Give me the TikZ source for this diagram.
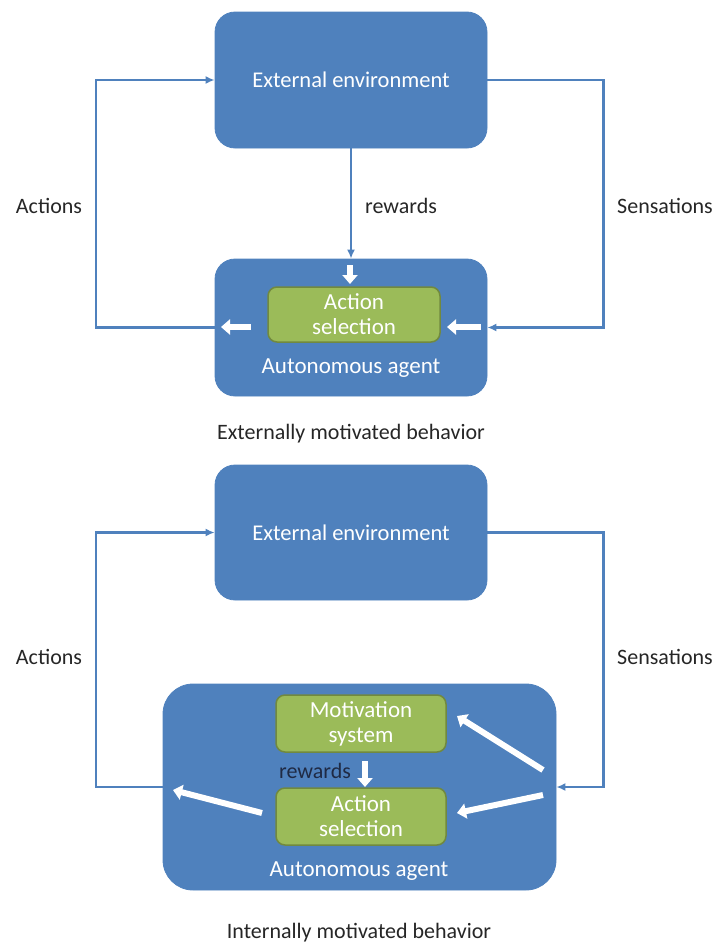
\documentclass[tikz,border=0pt]{standalone}
\usepackage{fontspec}
\setmainfont{Carlito}
\usetikzlibrary{arrows.meta}
\definecolor{bblue}{HTML}{4F81BD}
\definecolor{ggreen}{HTML}{9BBB59}
\definecolor{ggreenD}{HTML}{71893F}
\definecolor{navy}{HTML}{1F2A44}
\definecolor{txt}{HTML}{262626}
\begin{document}
\begin{tikzpicture}[x=1pt,y=-1pt,
  bluebox/.style={draw=bblue,line width=0.8pt,fill=bblue,rounded corners=20pt,text=white,font=\fontsize{22.5}{26}\selectfont,inner sep=0pt},
  greenbox/.style={draw=ggreenD,line width=1.5pt,fill=ggreen,rounded corners=9pt,text=white,align=center,font=\fontsize{23}{27}\selectfont,inner sep=0pt},
  lbl/.style={text=txt,font=\fontsize{22}{26}\selectfont,inner sep=0pt},
  intext/.style={text=white,font=\fontsize{23}{26}\selectfont,inner sep=0pt},
  conn/.style={draw=bblue,line width=2.2pt,-{Latex[length=9pt,width=8pt]}},
  wharrow/.style={draw=white,line width=6pt,-{Triangle[length=9pt,width=15pt]}}
]
\useasboundingbox (0,0) rectangle (718,945);
% ---------- top diagram ----------
\node[bluebox,minimum width=272pt,minimum height=136pt] (env1) at (351,80) {External environment};
\node[bluebox,minimum width=272pt,minimum height=137pt] (agent1) at (351,327.5) {};
\node[greenbox,minimum width=172pt,minimum height=55pt] (as1) at (354,314.5) {Action\\[-2pt]selection};
\node[intext] (aa1) at (351,368) {Autonomous agent};
\node[lbl] (act1) at (49,206) {Actions};
\node[lbl,anchor=west] (sen1) at (617,206) {Sensations};
\node[lbl] (rew1) at (401,206) {rewards};
\node[lbl] (cap1) at (351,434) {Externally motivated behavior};

\draw[conn] (agent1.west) -- ++(-119,0) |- (env1.west);
\draw[conn] (env1.east) -- ++(116,0) |- (agent1.east);
\draw[conn] (env1.south) -- (agent1.north);

\coordinate (d1a) at (350,265);
\coordinate (d1b) at (350,284);
\coordinate (l1a) at (251,327);
\coordinate (l1b) at (221,327);
\coordinate (r1a) at (481,327);
\coordinate (r1b) at (447,327);
\draw[wharrow] (d1a) -- (d1b);
\draw[wharrow] (l1a) -- (l1b);
\draw[wharrow] (r1a) -- (r1b);

% ---------- bottom diagram ----------
\node[bluebox,minimum width=272pt,minimum height=135pt] (env2) at (351,532.5) {External environment};
\node[bluebox,rounded corners=30pt,minimum width=393pt,minimum height=206pt] (agent2) at (359.5,787) {};
\node[greenbox,minimum width=170pt,minimum height=57pt] (mot) at (361,723.5) {Motivation\\[-2pt]system};
\node[greenbox,minimum width=170pt,minimum height=57pt] (as2) at (361,816.5) {Action\\[-2pt]selection};
\node[intext] (aa2) at (359,871) {Autonomous agent};
\node[lbl,text=navy] (rew2) at (315,771) {rewards};
\node[lbl] (act2) at (49,657) {Actions};
\node[lbl,anchor=west] (sen2) at (617,657) {Sensations};
\node[lbl] (cap2) at (359,933) {Internally motivated behavior};

\draw[conn] (agent2.west) -- ++(-67,0) |- (env2.west);
\draw[conn] (env2.east) -- ++(116,0) |- (agent2.east);

\coordinate (d2a) at (365,761);
\coordinate (d2b) at (365,787);
\coordinate (m2a) at (543,770);
\coordinate (m2b) at (457,716);
\coordinate (s2a) at (543,795);
\coordinate (s2b) at (457,813);
\coordinate (o2a) at (262,813);
\coordinate (o2b) at (173,790);
\draw[wharrow] (d2a) -- (d2b);
\draw[wharrow] (m2a) -- (m2b);
\draw[wharrow] (s2a) -- (s2b);
\draw[wharrow] (o2a) -- (o2b);
\end{tikzpicture}
\end{document}
